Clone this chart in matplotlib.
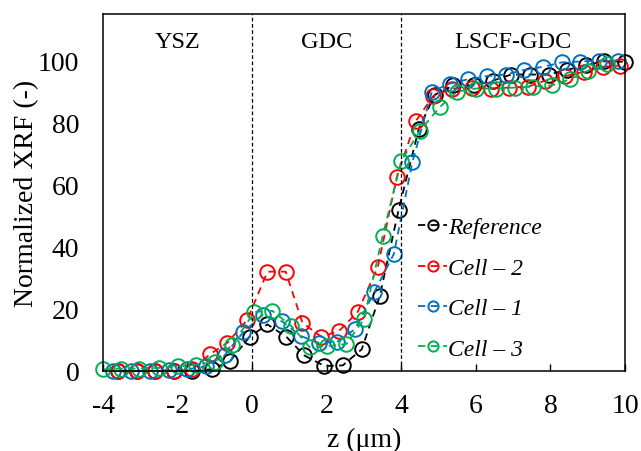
import matplotlib
matplotlib.use("Agg")
import matplotlib.pyplot as plt

plt.rcParams['font.family'] = ['Liberation Serif', 'DejaVu Serif']
plt.rcParams['axes.unicode_minus'] = False

# Depth positions (µm) and normalized XRF signal for each sample
z_ref = [-3.6, -3.1, -2.6, -2.1, -1.6, -1.07, -0.59, -0.07, 0.41, 0.92, 1.4, 1.94,
         2.43, 2.94, 3.42, 3.93, 4.47, 4.9, 5.4, 5.95, 6.45, 6.95, 7.45, 7.95,
         8.45, 8.95, 9.45, 10.0]
v_ref = [0, 0, 0, 0, 0, 0.6, 3.2, 11, 15, 11, 5, 1.6,
         1.8, 7, 24, 52, 78, 89, 92, 92, 93.5, 95.5, 95.5, 95.5,
         97, 98.5, 99.8, 99.6]

z_c2 = [-3.6, -3.1, -2.6, -2.1, -1.6, -1.12, -0.67, -0.13, 0.41, 0.9, 1.35, 1.86,
        2.34, 2.83, 3.37, 3.88, 4.39, 4.85, 5.35, 5.9, 6.4, 6.9, 7.4, 7.85,
        8.4, 8.9, 9.4, 9.87]
v_c2 = [0, 0, 0, 0, 0.5, 5.5, 9, 16.5, 32, 32, 15.5, 11,
        13, 19, 33.5, 62.5, 80.5, 88.5, 91, 91.3, 91, 91.3, 91.6, 93.5,
        95, 96.4, 98, 98.4]

z_c1 = [-3.74, -3.24, -2.74, -2.24, -1.74, -1.24, -0.74, -0.24, 0.28, 0.8, 1.3, 1.8,
        2.28, 2.76, 3.28, 3.8, 4.3, 4.82, 5.3, 5.8, 6.3, 6.8, 7.3, 7.8,
        8.3, 8.8, 9.3, 9.8]
v_c1 = [0, 0, 0, 0.3, 0.5, 1.5, 5, 12.5, 18, 16, 11.3, 9,
        9.4, 13.5, 25.5, 37.7, 67.4, 90, 92.6, 94, 95, 95.5, 97, 98,
        99.4, 99.7, 100, 100]

z_c3 = [-4.0, -3.53, -3.03, -2.5, -2.0, -1.5, -1.0, -0.53, 0.06, 0.54, 1.05, 1.54,
        2.02, 2.53, 3.0, 3.5, 4.0, 4.5, 5.03, 5.5, 6.0, 6.55, 7.05, 7.53,
        8.04, 8.53, 9.0, 9.53]
v_c3 = [0.5, 0.8, 0.8, 1, 1.5, 2, 3, 8.5, 19, 19.4, 14.5, 7.7,
        8, 8.7, 16.8, 43.5, 67.7, 77.4, 85, 90, 91, 91, 91.3, 91.6,
        92, 94, 96.7, 99]

series = [
    (z_ref, v_ref, 'black', 'Reference'),
    (z_c2, v_c2, '#FF0000', 'Cell \u2013 2'),
    (z_c1, v_c1, '#0070C0', 'Cell \u2013 1'),
    (z_c3, v_c3, '#00B050', 'Cell \u2013 3'),
]

regions = ['YSZ', 'GDC', 'LSCF-GDC']
region_x = [-2, 2, 7]
interfaces = [0, 4]

fig = plt.figure(figsize=(6.41, 4.52), dpi=100)
ax = fig.add_axes([0.1607, 0.177, 0.8143, 0.7898])

for z, v, c, lab in series:
    ax.plot(z, v, linestyle=(0, (4, 3)), color=c, linewidth=1.3,
            marker='o', markersize=10.5, markerfacecolor='none',
            markeredgecolor=c, markeredgewidth=1.4, label=lab, clip_on=False)

for x0 in interfaces:
    ax.axvline(x0, color='black', linestyle=(0, (3, 2)), linewidth=0.9)

for name, xr in zip(regions, region_x):
    ax.text(xr, 106, name, ha='center', va='center', fontsize=17.5)

ax.set_xlim(-4, 10)
ax.set_ylim(0, 115)
ax.set_xticks(range(-4, 11, 2))
ax.set_yticks(range(0, 101, 20))
ax.tick_params(axis='both', direction='in', labelsize=20, length=5, width=1)
ax.tick_params(axis='y', length=0, pad=17)
ax.tick_params(axis='x', pad=16)
for s in ax.spines.values():
    s.set_linewidth(1.1)

ax.set_xlabel('z (\u03bcm)', fontsize=20, labelpad=6.5)
ax.set_ylabel('Normalized XRF (-)', fontsize=20, labelpad=-0.5)

ax.legend(loc='upper left', bbox_to_anchor=(0.585, 0.458), frameon=False,
          prop={'style': 'italic', 'size': 17}, handlelength=1.25,
          handletextpad=0.05, labelspacing=0.8, markerscale=0.7,
          borderaxespad=0)

fig.savefig('out.png', dpi=100)
